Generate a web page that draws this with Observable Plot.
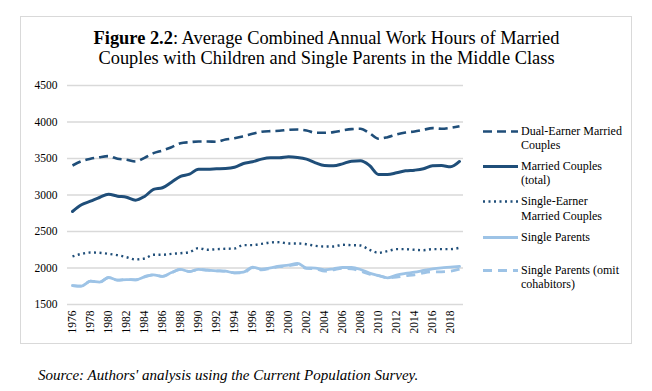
<!DOCTYPE html>
<html><head><meta charset="utf-8">
<script src="https://cdn.jsdelivr.net/npm/d3@7"></script>
<script src="https://cdn.jsdelivr.net/npm/@observablehq/plot@0.6"></script>
<style>
body{margin:0;background:#fff;font-family:"Liberation Serif","Times New Roman",serif;}
#frame{position:absolute;left:20px;top:16px;width:612px;height:328px;border:1px solid #d9d9d9;box-sizing:border-box;}
#title{position:absolute;left:20px;width:613px;top:28px;text-align:center;font-size:18.4px;line-height:20px;color:#000;}
#chart{position:absolute;left:20px;top:70px;}
#legend{position:absolute;left:0;top:0;}
.li{position:absolute;left:483px;font-size:12px;line-height:14.5px;color:#000;}
.li svg{position:absolute;left:0;top:0;overflow:visible;}
.li span{position:absolute;left:38px;top:0;white-space:nowrap;}
#caption{position:absolute;left:38px;top:367px;font-size:15px;font-style:italic;color:#000;}
</style></head>
<body>
<div id="frame"></div>
<div id="title"><b>Figure 2.2</b>: Average Combined Annual Work Hours of Married<br>Couples with Children and Single Parents in the Middle Class</div>
<div id="chart"></div>
<div id="legend"></div>
<div id="caption">Source: Authors' analysis using the Current Population Survey.</div>
<script>
const years = d3.range(1976, 2020);
const dualEarner = [3404,3463,3496,3518,3532,3496,3482,3459,3509,3573,3610,3655,3710,3724,3733,3733,3729,3760,3778,3806,3838,3866,3875,3880,3893,3898,3884,3852,3852,3861,3884,3902,3907,3847,3770,3792,3829,3856,3870,3893,3916,3907,3920,3943];
const marriedTotal = [2774,2866,2915,2966,3011,2984,2970,2929,2980,3076,3099,3176,3254,3285,3354,3354,3359,3363,3381,3432,3455,3491,3509,3509,3523,3514,3491,3441,3404,3400,3427,3463,3468,3404,3281,3281,3304,3331,3340,3359,3400,3404,3386,3459];
const singleEarner = [2158,2194,2212,2208,2194,2176,2148,2117,2130,2181,2181,2194,2203,2217,2272,2249,2258,2263,2267,2313,2313,2331,2349,2354,2336,2336,2326,2303,2295,2295,2318,2313,2308,2249,2208,2231,2258,2258,2249,2244,2258,2258,2258,2277];
const singleParents = [1760,1751,1819,1806,1870,1833,1842,1838,1879,1907,1884,1938,1980,1952,1980,1970,1962,1956,1934,1943,2011,1984,2003,2025,2038,2062,2003,1998,1975,1989,2007,2007,1980,1929,1897,1866,1902,1925,1943,1966,1989,2003,2011,2021];
const singleParentsOmit = [1760,1751,1819,1806,1870,1833,1842,1838,1879,1907,1884,1938,1980,1952,1980,1970,1962,1956,1934,1935,2005,1975,1995,2018,2030,2050,1995,1990,1956,1975,1995,1990,1956,1915,1897,1866,1875,1893,1907,1934,1948,1948,1956,1984];
const yTicks = [1500,2000,2500,3000,3500,4000,4500];
const xTickYears = years.filter(y => y % 2 === 0);

const dark = "#1f4e79", light = "#9dc3e6";
const series = [
  {name:"Dual-Earner Married Couples", label:["Dual-Earner Married","Couples"], values:dualEarner, color:dark, width:2.6, dash:"9,5", cap:"butt"},
  {name:"Married Couples (total)", label:["Married Couples","(total)"], values:marriedTotal, color:dark, width:3, dash:null, cap:"round"},
  {name:"Single-Earner Married Couples", label:["Single-Earner","Married Couples"], values:singleEarner, color:dark, width:2.4, dash:"2,3.5", cap:"butt"},
  {name:"Single Parents", label:["Single Parents"], values:singleParents, color:light, width:2.8, dash:null, cap:"round"},
  {name:"Single Parents (omit cohabitors)", label:["Single Parents (omit","cohabitors)"], values:singleParentsOmit, color:light, width:2.8, dash:"9,6", cap:"butt"}
];
const drawOrder = [4,3,2,0,1];

const marks = [
  Plot.ruleY(yTicks, {stroke:"#d9d9d9", strokeWidth:1.5}),
  Plot.axisY({ticks:yTicks, tickSize:0, tickPadding:10, fontSize:11.5, tickFormat:d=>String(d)}),
  Plot.axisX({ticks:xTickYears, tickSize:0, tickPadding:6, tickRotate:-90, fontSize:11.5, tickFormat:d=>String(d)})
];
for (const i of drawOrder) {
  const s = series[i];
  const data = years.map((y,j)=>({year:y, value:s.values[j]}));
  marks.push(Plot.line(data, {x:"year", y:"value", stroke:s.color, strokeWidth:s.width, strokeDasharray:s.dash, strokeLinecap:s.cap, curve:"monotone-x"}));
}

const chart = Plot.plot({
  width:470, height:275,
  marginLeft:47, marginRight:27, marginTop:15, marginBottom:41,
  style:{fontFamily:"Liberation Serif, Times New Roman, serif", fontSize:"11.5px", color:"#000", background:"transparent"},
  x:{type:"point", domain:years, padding:0.5, label:null, axis:null},
  y:{domain:[1500,4500], label:null, axis:null},
  marks
});
document.getElementById("chart").appendChild(chart);

const legendY = [131,166,201.5,237,270];
const leg = document.getElementById("legend");
series.forEach((s,i)=>{
  const d = document.createElement("div");
  d.className = "li";
  d.style.top = (legendY[i]-7.5)+"px";
  const svg = d3.create("svg").attr("width",36).attr("height",15);
  svg.append("line").attr("x1",0).attr("x2",35).attr("y1",7.5).attr("y2",7.5)
    .attr("stroke",s.color).attr("stroke-width",s.width).attr("stroke-dasharray",s.dash)
    .attr("stroke-linecap","butt");
  d.appendChild(svg.node());
  const sp = document.createElement("span");
  sp.innerHTML = s.label.join("<br>");
  d.appendChild(sp);
  leg.appendChild(d);
});
</script>
</body></html>
